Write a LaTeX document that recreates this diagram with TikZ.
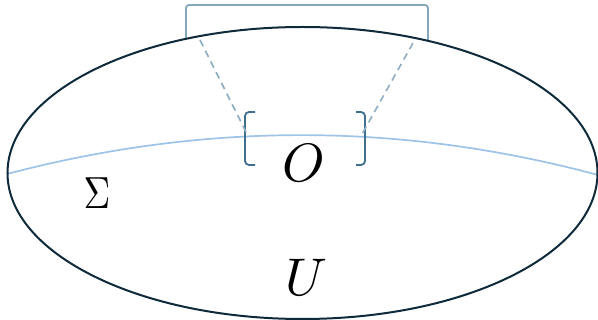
\documentclass[tikz,border=0pt]{standalone}
\usepackage{amsmath}
\definecolor{ellcol}{HTML}{0E2A3B}
\definecolor{bigbr}{HTML}{86A8BC}
\definecolor{smallbr}{HTML}{3F6F8F}
\definecolor{sigcol}{HTML}{9DC3E6}
\definecolor{dashcol}{HTML}{8FAEC3}
\tikzset{
  ellline/.style={draw=ellcol,line width=2pt},
  sigline/.style={draw=sigcol,line width=1.7pt},
  bigbracket/.style={draw=bigbr,line width=1.8pt,rounded corners=3pt},
  smallbracket/.style={draw=smallbr,line width=1.8pt,rounded corners=4pt},
  dashline/.style={draw=dashcol,line width=1.6pt,dash pattern=on 7pt off 5pt},
  lbl/.style={inner sep=0pt,text=black}
}
\begin{document}
\begin{tikzpicture}[x=1pt,y=-1pt]
\useasboundingbox (0,0) rectangle (598,320);
% Sigma curve
\draw[sigline] (7,174) .. controls (204,122) and (401,122) .. (598,175);
% big bracket
\draw[bigbracket] (186,38) -- (186,5) -- (428,5) -- (428,40);
% ellipse
\draw[ellline] (302.5,173) ellipse [x radius=295, y radius=146];
% small brackets
\draw[smallbracket] (255,112) -- (245,112) -- (245,165) -- (255,165);
\draw[smallbracket] (356,112) -- (365,112) -- (365,165) -- (356,165);
% dashed connectors
\coordinate (dl1) at (200,40);
\coordinate (dl2) at (246,132);
\coordinate (dr1) at (413,43);
\coordinate (dr2) at (361,136);
\draw[dashline] (dl1) -- (dl2);
\draw[dashline] (dr1) -- (dr2);
% labels
\node[lbl,scale=5.4] (O) at (304,163) {$O$};
\node[lbl,xscale=3.7,yscale=4.5] (S) at (97,193) {$\Sigma$};
\node[lbl,scale=5.3] (U) at (306,277) {$U$};
\end{tikzpicture}
\end{document}
